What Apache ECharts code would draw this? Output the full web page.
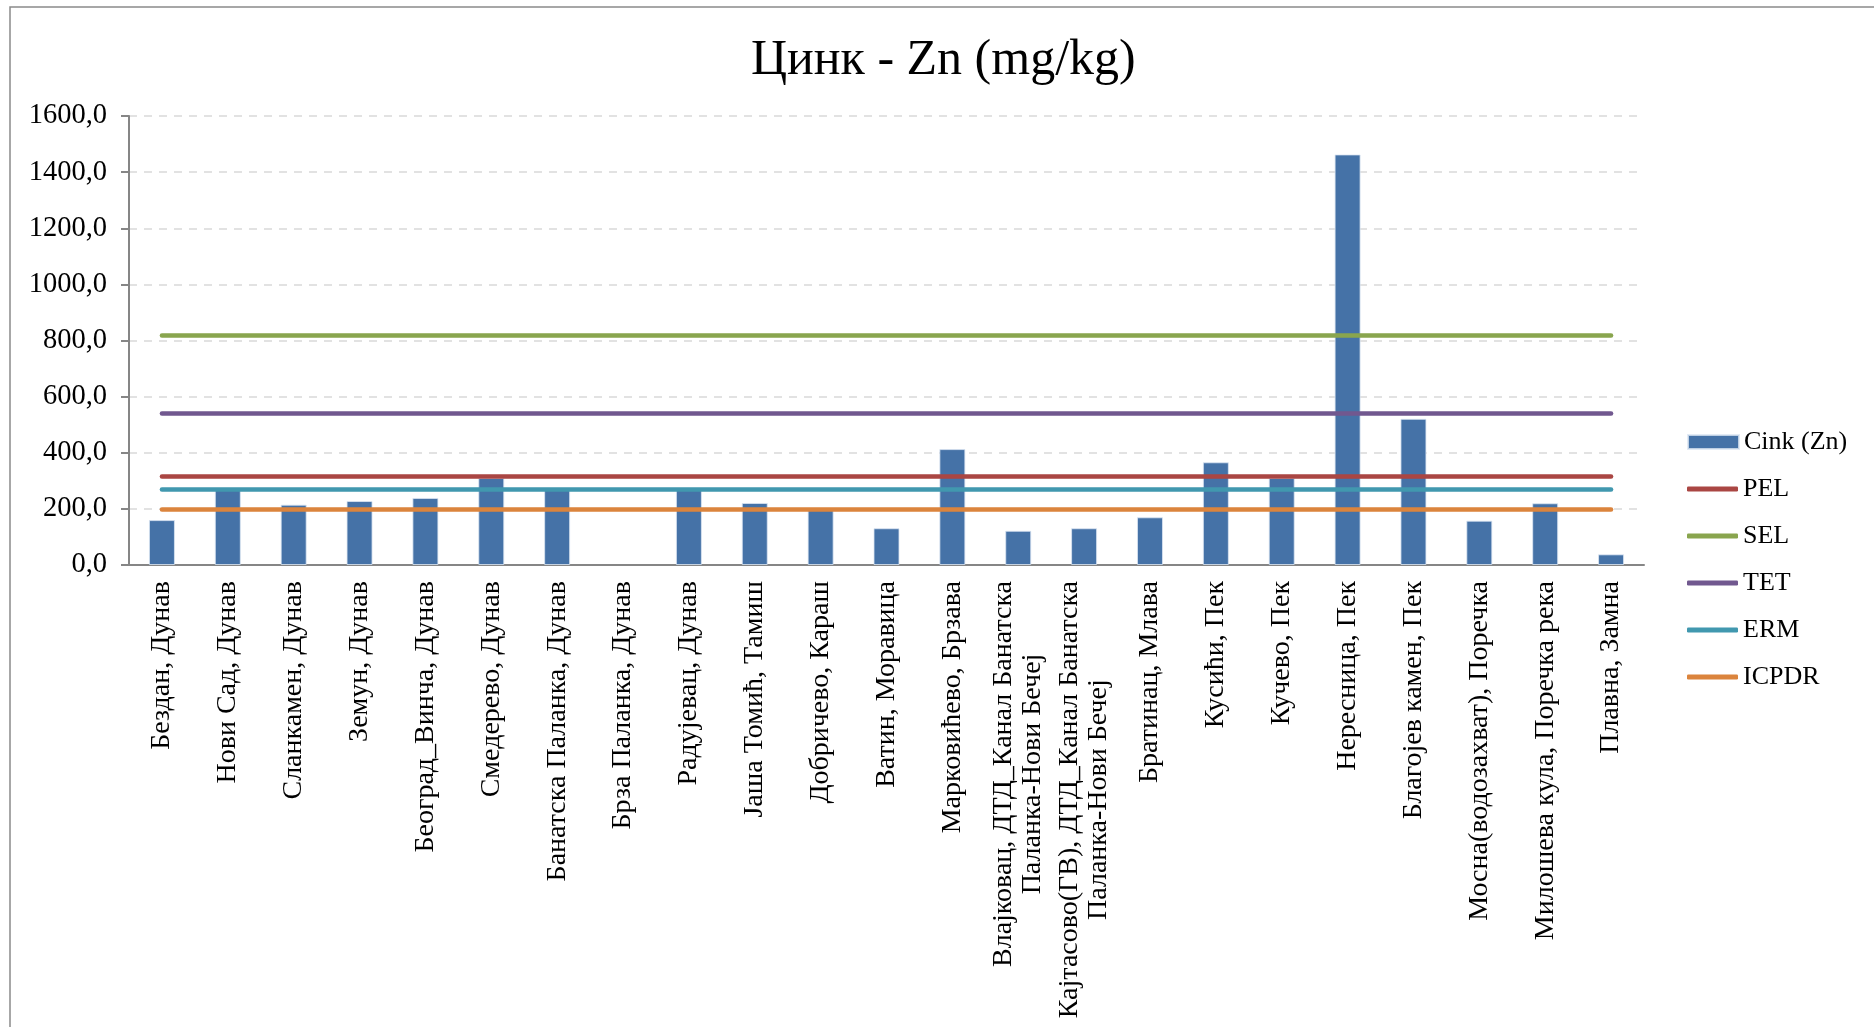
<!DOCTYPE html>
<html>
<head>
<meta charset="utf-8">
<title>Цинк - Zn (mg/kg)</title>
<script src="https://cdn.jsdelivr.net/npm/echarts@6/dist/echarts.min.js"></script>
<style>
  html, body { margin: 0; padding: 0; background: #fff; }
  #chart { width: 1874px; height: 1027px; }
</style>
</head>
<body>
<div id="chart"></div>
<script>
// sampling sites (river) - long names wrap like in the original sheet
const categories = [
    'Бездан, Дунав', 'Нови Сад, Дунав', 'Сланкамен, Дунав', 'Земун, Дунав',
    'Београд_Винча, Дунав', 'Смедерево, Дунав', 'Банатска Паланка, Дунав',
    'Брза Паланка, Дунав', 'Радујевац, Дунав', 'Јаша Томић, Тамиш',
    'Добричево, Караш', 'Ватин, Моравица', 'Марковићево, Брзава',
    'Влајковац, ДТД_Канал Банатска\nПаланка-Нови Бечеј',
    'Кајтасово(ГВ), ДТД_Канал Банатска\nПаланка-Нови Бечеј',
    'Братинац, Млава', 'Кусићи, Пек', 'Кучево, Пек', 'Нересница, Пек',
    'Благојев камен, Пек', 'Мосна(водозахват), Поречка',
    'Милошева кула, Поречка река', 'Плавна, Замна'
];
const zincValues = [
    160, 270, 215, 228, 239, 310, 270, null, 270, 221, 198, 131,
    413, 122, 131, 170, 366, 310, 1463, 521, 158, 220, 38
];

const limitNames = ['PEL', 'SEL', 'TET', 'ERM', 'ICPDR'];
const limitValues = [315, 820, 540, 270, 200];
const limitColors = ['#AA4643', '#89A54E', '#71588F', '#4198AF', '#DB843D'];

const yMin = 0, yMax = 1600, yStep = 200;

const FONT = '"Liberation Serif", "DejaVu Serif", serif';
const chart = echarts.init(document.getElementById('chart'));

const lineSeries = limitNames.map((name, i) => ({
    name: name,
    type: 'line',
    data: [],
    color: limitColors[i],
    symbol: 'none',
    markLine: {
        silent: true,
        symbol: 'none',
        label: { show: false },
        lineStyle: { color: limitColors[i], width: 4.5, type: 'solid', cap: 'round' },
        data: [[
            { coord: [categories[0], limitValues[i]] },
            { coord: [categories[categories.length - 1], limitValues[i]] }
        ]]
    }
}));

chart.setOption({
    animation: false,
    backgroundColor: '#fff',
    title: {
        text: 'Цинк - Zn (mg/kg)',
        left: 746,
        top: 31,
        textStyle: { fontFamily: FONT, fontSize: 50, fontWeight: 'normal', color: '#000' }
    },
    graphic: [{
        type: 'rect',
        silent: true,
        shape: { x: 10, y: 7, width: 1900, height: 1100 },
        style: { fill: 'none', stroke: '#8a8a8a', lineWidth: 1.5 }
    }],
    legend: [{
        orient: 'vertical',
        left: 1682,
        top: 424,
        itemWidth: 51,
        itemHeight: 14,
        data: [{ name: 'Cink (Zn)', icon: 'rect' }],
        textStyle: { fontFamily: FONT, fontSize: 26, color: '#000' }
    }, {
        orient: 'vertical',
        left: 1682,
        top: 471,
        itemGap: 21,
        itemWidth: 51,
        itemHeight: 5,
        icon: 'roundRect',
        data: limitNames,
        textStyle: { fontFamily: FONT, fontSize: 26, color: '#000' }
    }],
    grid: { left: 129, right: 230, top: 116, bottom: 462 },
    xAxis: {
        type: 'category',
        data: categories,
        boundaryGap: true,
        axisLine: { lineStyle: { color: '#868686', width: 2 } },
        axisTick: { length: 7, lineStyle: { color: '#868686', width: 2 } },
        axisLabel: {
            interval: 0,
            rotate: 90,
            margin: 16,
            fontFamily: FONT,
            fontSize: 28,
            color: '#000',
            formatter: (v) => v.split('\n').map(s => '{c|' + s + '}').join('\n'),
            rich: { c: { align: 'center', fontFamily: FONT, fontSize: 28, color: '#000', lineHeight: 29 } }
        }
    },
    yAxis: {
        type: 'value',
        min: yMin,
        max: yMax,
        interval: yStep,
        axisLine: { show: true, lineStyle: { color: '#868686', width: 2 } },
        axisTick: { show: true, length: 8, lineStyle: { color: '#868686', width: 2 } },
        axisLabel: {
            margin: 22,
            fontFamily: FONT,
            fontSize: 28.5,
            color: '#000',
            formatter: (v) => v.toFixed(1).replace('.', ',')
        },
        splitLine: { lineStyle: { color: '#d9d9d9', width: 1.5, type: [8, 7] } }
    },
    series: [{
        name: 'Cink (Zn)',
        type: 'bar',
        data: zincValues,
        barWidth: 26,
        color: '#4572A7',
        itemStyle: { color: '#4572A7', borderColor: 'rgba(220,230,242,0.8)', borderWidth: 1 }
    }].concat(lineSeries)
});
</script>
</body>
</html>
